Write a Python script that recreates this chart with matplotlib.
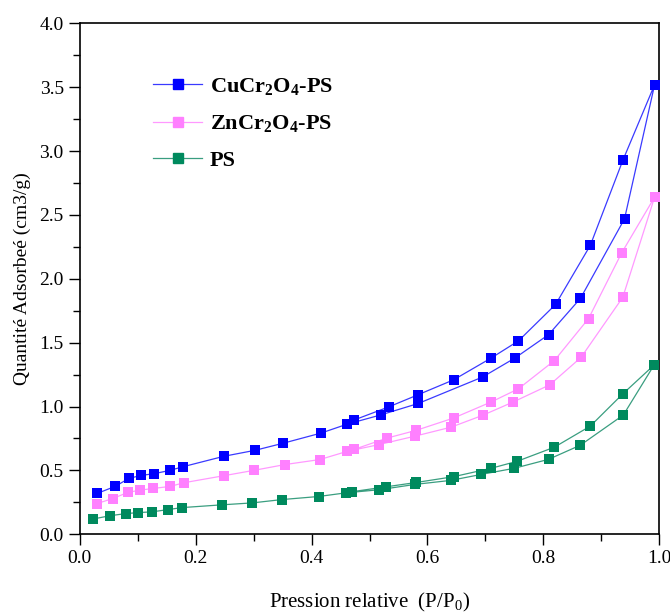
import matplotlib.pyplot as plt
import numpy as np

plt.rcParams['font.family'] = 'Liberation Serif'
plt.rcParams['mathtext.fontset'] = 'custom'
plt.rcParams['mathtext.rm'] = 'Liberation Serif'
plt.rcParams['mathtext.bf'] = 'Liberation Serif:bold'

# adsorption branch (low -> high P/P0) then desorption branch (high -> low)
cu_p_ads = [0.030, 0.061, 0.085, 0.106, 0.129, 0.156, 0.179, 0.249, 0.303, 0.351, 0.416, 0.462,
            0.519, 0.584, 0.695, 0.751, 0.809, 0.864, 0.940, 0.992]
cu_v_ads = [0.32, 0.375, 0.438, 0.461, 0.475, 0.501, 0.530, 0.611, 0.658, 0.713, 0.792, 0.863,
            0.934, 1.024, 1.231, 1.380, 1.563, 1.847, 2.469, 3.52]
cu_p_des = [0.992, 0.937, 0.881, 0.821, 0.757, 0.710, 0.645, 0.583, 0.533, 0.473]
cu_v_des = [3.52, 2.926, 2.262, 1.799, 1.514, 1.380, 1.209, 1.091, 0.997, 0.894]

zn_p_ads = [0.030, 0.057, 0.083, 0.104, 0.127, 0.156, 0.180, 0.249, 0.301, 0.354, 0.414, 0.462,
            0.517, 0.579, 0.641, 0.695, 0.748, 0.811, 0.865, 0.937, 0.992]
zn_v_ads = [0.241, 0.280, 0.328, 0.346, 0.359, 0.375, 0.404, 0.459, 0.501, 0.546, 0.585, 0.650,
            0.703, 0.769, 0.839, 0.931, 1.036, 1.170, 1.385, 1.855, 2.64]
zn_p_des = [0.992, 0.935, 0.878, 0.819, 0.757, 0.710, 0.645, 0.580, 0.530, 0.473]
zn_v_des = [2.64, 2.202, 1.689, 1.360, 1.139, 1.036, 0.910, 0.813, 0.753, 0.664]

ps_p_ads = [0.023, 0.053, 0.079, 0.101, 0.125, 0.153, 0.176, 0.246, 0.298, 0.349, 0.412, 0.460,
            0.517, 0.579, 0.640, 0.693, 0.750, 0.809, 0.864, 0.938, 0.991]
ps_v_ads = [0.120, 0.146, 0.162, 0.170, 0.176, 0.194, 0.209, 0.231, 0.246, 0.272, 0.296, 0.325,
            0.349, 0.391, 0.422, 0.469, 0.517, 0.587, 0.698, 0.934, 1.325]
ps_p_des = [0.991, 0.937, 0.881, 0.819, 0.755, 0.710, 0.645, 0.581, 0.529, 0.469]
ps_v_des = [1.325, 1.099, 0.847, 0.682, 0.572, 0.517, 0.451, 0.406, 0.372, 0.333]

series = [
    (r'CuCr$_\mathbf{2}$O$_\mathbf{4}$-PS', cu_p_ads, cu_v_ads, cu_p_des, cu_v_des, '#0000ff', '#3a3aff'),
    (r'ZnCr$_\mathbf{2}$O$_\mathbf{4}$-PS', zn_p_ads, zn_v_ads, zn_p_des, zn_v_des, '#ff80ff', '#ff99ff'),
    ('PS', ps_p_ads, ps_v_ads, ps_p_des, ps_v_des, '#008a5e', '#3a9e80'),
]

fig = plt.figure(figsize=(6.7, 6.16), dpi=100)
ax = fig.add_axes([0.119, 0.1326, 0.865, 0.8296])

for label, pa, va, pd, vd, mc, lc in series:
    p = np.concatenate([pa, pd[1:]])
    v = np.concatenate([va, vd[1:]])
    ax.plot(p, v, '-', color=lc, lw=0.9, zorder=2)
    ax.plot(p, v, 's', color=mc, ms=7, mew=0, zorder=3)
    ax.plot([], [], '-s', color=lc, mfc=mc, mec=mc, ms=7, lw=0.9, label=label)

ax.set_xlim(0, 1.0)
ax.set_ylim(0, 4.0)
ax.set_xticks(np.arange(0, 1.01, 0.2))
ax.set_xticks(np.arange(0, 1.01, 0.1), minor=True)
ax.set_yticks(np.arange(0, 4.01, 0.5))
ax.set_yticks(np.arange(0, 4.01, 0.25), minor=True)
ax.xaxis.set_major_formatter(plt.FormatStrFormatter('%.1f'))
ax.yaxis.set_major_formatter(plt.FormatStrFormatter('%.1f'))
ax.tick_params(which='major', direction='out', length=8, width=1, labelsize=14)
ax.tick_params(which='minor', direction='out', length=5, width=1)
for s in ax.spines.values():
    s.set_linewidth(1.2)

ax.set_xlabel(r'Pression relative  (P/P$_0$)', fontsize=15, labelpad=17)
ax.set_ylabel('Quantité Adsorbeé (cm3/g)', fontsize=14, labelpad=6)

leg = ax.legend(loc='upper left', bbox_to_anchor=(0.1, 0.927), frameon=False,
                prop={'weight': 'bold', 'size': 16}, handlelength=2.2,
                labelspacing=0.7, handletextpad=0.35, borderaxespad=0.3)

plt.savefig('out.png', dpi=100)
